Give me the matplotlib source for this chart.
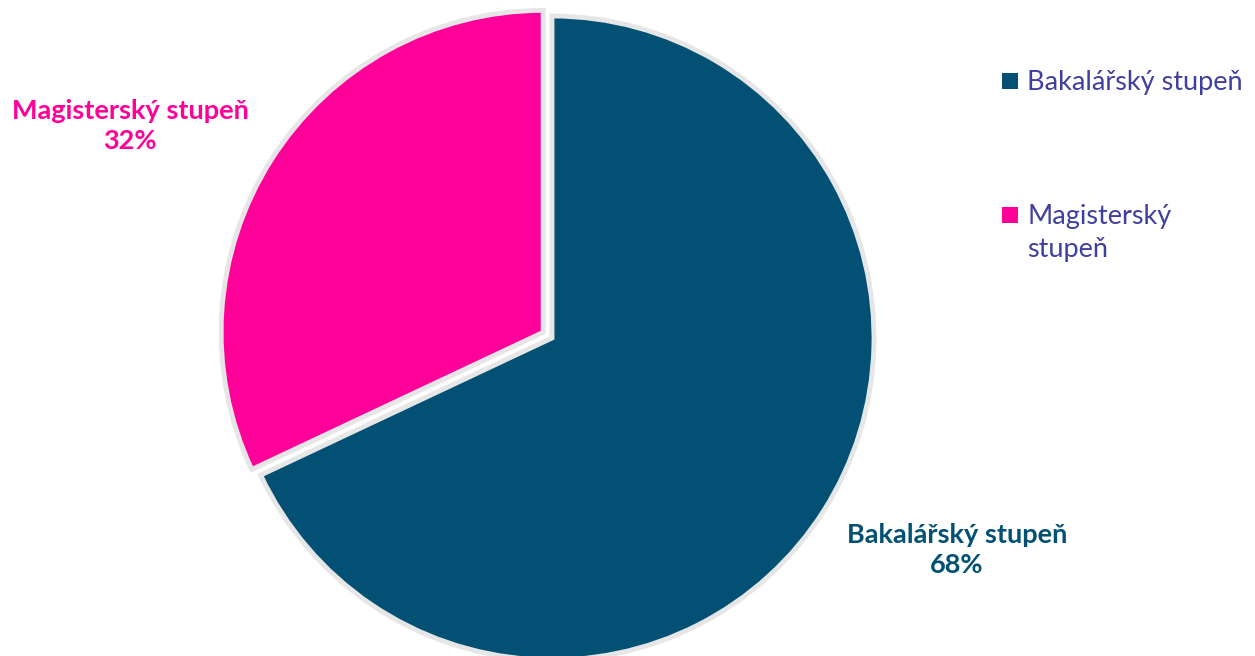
import matplotlib.pyplot as plt
from matplotlib.patches import Rectangle

# data
categories = ["Bakalářský stupeň", "Magisterský stupeň"]
shares = [68, 32]
colors = ["#025175", "#FF0099"]
legend_labels = ["Bakalářský stupeň", "Magisterský\nstupeň"]

plt.rcParams['font.family'] = ['Lato', 'DejaVu Sans']

fig = plt.figure(figsize=(12.55, 6.56), dpi=100)
ax = fig.add_axes([0, 0, 1, 1])

# pie in pixel coordinates (y up), explode is in data units here
cx, cy, r = 552, 318, 322
wedges, _ = ax.pie(shares, colors=colors, startangle=90, counterclock=False,
                   explode=[0, 10.5], center=(cx, cy), radius=r,
                   wedgeprops=dict(edgecolor="#E6E6E6", linewidth=3.5))
ax.set_xlim(0, 1255)
ax.set_ylim(0, 656)
ax.set_aspect('equal')
ax.axis('off')

# data labels
ax.text(130, 656 - 126, f"{categories[1]}\n{shares[1]}%", color=colors[1],
        fontsize=19.5, fontweight='bold', ha='center', va='center', linespacing=1.3)
ax.text(957, 656 - 550, f"{categories[0]}\n{shares[0]}%", color=colors[0],
        fontsize=19.5, fontweight='bold', ha='center', va='center', linespacing=1.3)

# legend (drawn by hand so the square sits at the first line)
leg_y = [81, 215]
for lab, col, y in zip(legend_labels, colors, leg_y):
    ax.add_patch(Rectangle((1002, 656 - y - 8), 16, 16, facecolor=col, edgecolor='none'))
    ax.text(1027, 656 - y + 11, lab, color="#3F3FA0", fontsize=19.5,
            ha='left', va='top', linespacing=1.42)

fig.savefig("out.png", dpi=100)
